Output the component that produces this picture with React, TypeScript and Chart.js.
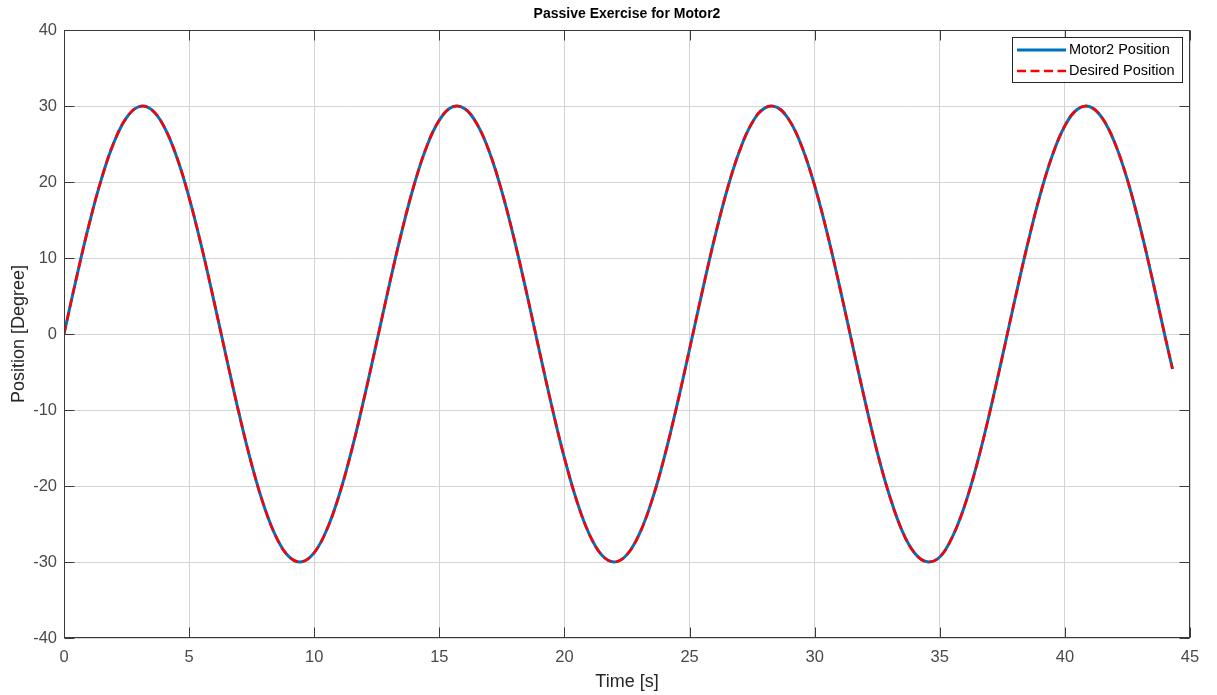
import React, { useEffect, useRef } from "react";
import { Chart, registerables } from "chart.js";

Chart.register(...registerables);

const chartTitle = "Passive Exercise for Motor2";
const xAxisTitle = "Time [s]";
const yAxisTitle = "Position [Degree]";
const seriesNames = ["Motor2 Position", "Desired Position"];

const timeValues = [
  0, 0.5, 1, 1.5, 2, 2.5, 3, 3.5, 4, 4.5, 5, 5.5, 6, 6.5, 7, 7.5, 8, 8.5, 9, 9.5,
  10, 10.5, 11, 11.5, 12, 12.5, 13, 13.5, 14, 14.5, 15, 15.5, 16, 16.5, 17, 17.5,
  18, 18.5, 19, 19.5, 20, 20.5, 21, 21.5, 22, 22.5, 23, 23.5, 24, 24.5, 25, 25.5,
  26, 26.5, 27, 27.5, 28, 28.5, 29, 29.5, 30, 30.5, 31, 31.5, 32, 32.5, 33, 33.5,
  34, 34.5, 35, 35.5, 36, 36.5, 37, 37.5, 38, 38.5, 39, 39.5, 40, 40.5, 41, 41.5,
  42, 42.5, 43, 43.5, 44, 44.3,
];

const motorPosition = [
  0, 7.42, 14.38, 20.45, 25.24, 28.47, 29.92, 29.52, 27.28, 23.34, 17.95, 11.45, 4.23,
  -3.25, -10.52, -17.15, -22.7, -26.85, -29.33, -29.98, -28.77, -25.77, -21.16, -15.25,
  -8.38, -1.0, 6.45, 13.5, 19.71, 24.71, 28.14, 29.84, 29.68, 27.66, 23.96, 18.74, 12.36,
  5.23, -2.26, -9.59, -16.32, -22.03, -26.39, -29.12, -30.0, -29.03, -26.27, -21.86,
  -16.1, -9.33, -1.99, 5.48, 12.61, 18.95, 24.11, 27.79, 29.72, 29.81, 28.05, 24.54,
  19.51, 13.27, 6.2, -1.26, -8.64, -15.53, -21.35, -25.93, -28.84, -29.98, -29.34,
  -26.72, -22.53, -16.94, -10.27, -2.98, 4.5, 11.69, 18.17, 23.51, 27.39, 29.57, 29.9,
  28.38, 25.1, 20.27, 14.15, 7.15, -0.27, -4.6,
];

const desiredPosition = [
  0, 7.42, 14.38, 20.45, 25.24, 28.47, 29.92, 29.52, 27.28, 23.34, 17.95, 11.45, 4.23,
  -3.25, -10.52, -17.15, -22.7, -26.85, -29.33, -29.98, -28.77, -25.77, -21.16, -15.25,
  -8.38, -1.0, 6.45, 13.5, 19.71, 24.71, 28.14, 29.84, 29.68, 27.66, 23.96, 18.74, 12.36,
  5.23, -2.26, -9.59, -16.32, -22.03, -26.39, -29.12, -30.0, -29.03, -26.27, -21.86,
  -16.1, -9.33, -1.99, 5.48, 12.61, 18.95, 24.11, 27.79, 29.72, 29.81, 28.05, 24.54,
  19.51, 13.27, 6.2, -1.26, -8.64, -15.53, -21.35, -25.93, -28.84, -29.98, -29.34,
  -26.72, -22.53, -16.94, -10.27, -2.98, 4.5, 11.69, 18.17, 23.51, 27.39, 29.57, 29.9,
  28.38, 25.1, 20.27, 14.15, 7.15, -0.27, -4.6,
];

const xTicks = [0, 5, 10, 15, 20, 25, 30, 35, 40, 45];
const yTicks = [-40, -30, -20, -10, 0, 10, 20, 30, 40];

const FONT = "'Liberation Sans', Arial, Helvetica, sans-serif";
const AXIS_COLOR = "#3a3a3a";
const GRID_COLOR = "#d4d4d4";
const TICK_COLOR = "#4a4a4a";
const BLUE = "#0072BD";
const RED = "#FF0000";
const RED_DASH = [9, 4.5];

const matlabPlugin = {
  id: "matlabDecor",
  afterDraw(chart: any) {
    const ctx = chart.ctx;
    const { left, right, top, bottom } = chart.chartArea;
    const xs = chart.scales.x;
    const ys = chart.scales.y;
    ctx.save();
    // box
    ctx.strokeStyle = AXIS_COLOR;
    ctx.lineWidth = 1;
    const L = Math.round(left) + 0.5;
    const R = Math.round(right) - 0.5;
    const T = Math.round(top) + 0.5;
    const B = Math.round(bottom) - 0.5;
    ctx.strokeRect(L, T, R - L, B - T);
    // inward ticks
    const tl = 10;
    ctx.beginPath();
    xTicks.forEach((v) => {
      const px = Math.round(xs.getPixelForValue(v)) + 0.5;
      ctx.moveTo(px, B);
      ctx.lineTo(px, B - tl);
      ctx.moveTo(px, T);
      ctx.lineTo(px, T + tl);
    });
    yTicks.forEach((v) => {
      const py = Math.round(ys.getPixelForValue(v)) + 0.5;
      ctx.moveTo(L, py);
      ctx.lineTo(L + tl, py);
      ctx.moveTo(R, py);
      ctx.lineTo(R - tl, py);
    });
    ctx.stroke();

    // title
    ctx.fillStyle = "#000000";
    ctx.font = `bold 14px ${FONT}`;
    ctx.textAlign = "center";
    ctx.textBaseline = "middle";
    ctx.fillText(chartTitle, (left + right) / 2, 14);

    // axis titles
    ctx.fillStyle = "#262626";
    ctx.font = `18px ${FONT}`;
    ctx.fillText(xAxisTitle, (left + right) / 2, 682);
    ctx.save();
    ctx.translate(19, (top + bottom) / 2);
    ctx.rotate(-Math.PI / 2);
    ctx.fillText(yAxisTitle, 0, 0);
    ctx.restore();

    // legend
    const lx = 1012.5, ly = 37.5, lw = 170, lh = 45;
    ctx.fillStyle = "#ffffff";
    ctx.fillRect(lx, ly, lw, lh);
    ctx.strokeStyle = "#262626";
    ctx.lineWidth = 1;
    ctx.strokeRect(lx, ly, lw, lh);
    const rows = [
      { y: 50, color: BLUE, dash: [] as number[], width: 3 },
      { y: 71, color: RED, dash: RED_DASH, width: 2.5 },
    ];
    rows.forEach((r, i) => {
      ctx.beginPath();
      ctx.setLineDash(r.dash);
      ctx.strokeStyle = r.color;
      ctx.lineWidth = r.width;
      ctx.moveTo(1017, r.y);
      ctx.lineTo(1066, r.y);
      ctx.stroke();
      ctx.setLineDash([]);
      ctx.fillStyle = "#000000";
      ctx.font = `14.5px ${FONT}`;
      ctx.textAlign = "left";
      ctx.textBaseline = "middle";
      ctx.fillText(seriesNames[i], 1069, r.y);
    });
    ctx.restore();
  },
};

export default function App() {
  const canvasRef = useRef<HTMLCanvasElement | null>(null);

  useEffect(() => {
    document.body.style.margin = "0";
    const canvas = canvasRef.current;
    if (!canvas) return;
    const motorData = timeValues.map((t, i) => ({ x: t, y: motorPosition[i] }));
    const desiredData = timeValues.map((t, i) => ({ x: t, y: desiredPosition[i] }));
    const chart = new Chart(canvas, {
      type: "line",
      data: {
        datasets: [
          {
            label: seriesNames[0],
            data: motorData,
            borderColor: BLUE,
            borderWidth: 3,
            pointRadius: 0,
            tension: 0.4,
            fill: false,
            order: 2,
          },
          {
            label: seriesNames[1],
            data: desiredData,
            borderColor: RED,
            borderWidth: 2.5,
            borderDash: RED_DASH,
            pointRadius: 0,
            tension: 0.4,
            fill: false,
            order: 1,
          },
        ],
      },
      options: {
        responsive: false,
        animation: false,
        devicePixelRatio: 1,
        layout: { padding: { top: 30, right: 27, left: 0, bottom: 0 } },
        plugins: {
          legend: { display: false },
          tooltip: { enabled: false },
          title: { display: false },
        },
        scales: {
          x: {
            type: "linear",
            min: 0,
            max: 45,
            afterFit: (scale: any) => {
              scale.height = 57;
            },
            afterBuildTicks: (scale: any) => {
              scale.ticks = xTicks.map((v) => ({ value: v }));
            },
            border: { display: false },
            grid: { color: GRID_COLOR, lineWidth: 1, drawTicks: false },
            ticks: {
              color: TICK_COLOR,
              font: { family: FONT, size: 16.5 },
              padding: 10,
              maxRotation: 0,
              autoSkip: false,
            },
          },
          y: {
            type: "linear",
            min: -40,
            max: 40,
            afterFit: (scale: any) => {
              scale.width = 64;
            },
            afterBuildTicks: (scale: any) => {
              scale.ticks = yTicks.map((v) => ({ value: v }));
            },
            border: { display: false },
            grid: { color: GRID_COLOR, lineWidth: 1, drawTicks: false },
            ticks: {
              color: TICK_COLOR,
              font: { family: FONT, size: 16.5 },
              padding: 7,
              autoSkip: false,
            },
          },
        },
      },
      plugins: [matlabPlugin],
    });
    return () => chart.destroy();
  }, []);

  return (
    <div style={{ width: 1217, height: 695, background: "#ffffff" }}>
      <canvas ref={canvasRef} width={1217} height={695} style={{ display: "block" }} />
    </div>
  );
}
